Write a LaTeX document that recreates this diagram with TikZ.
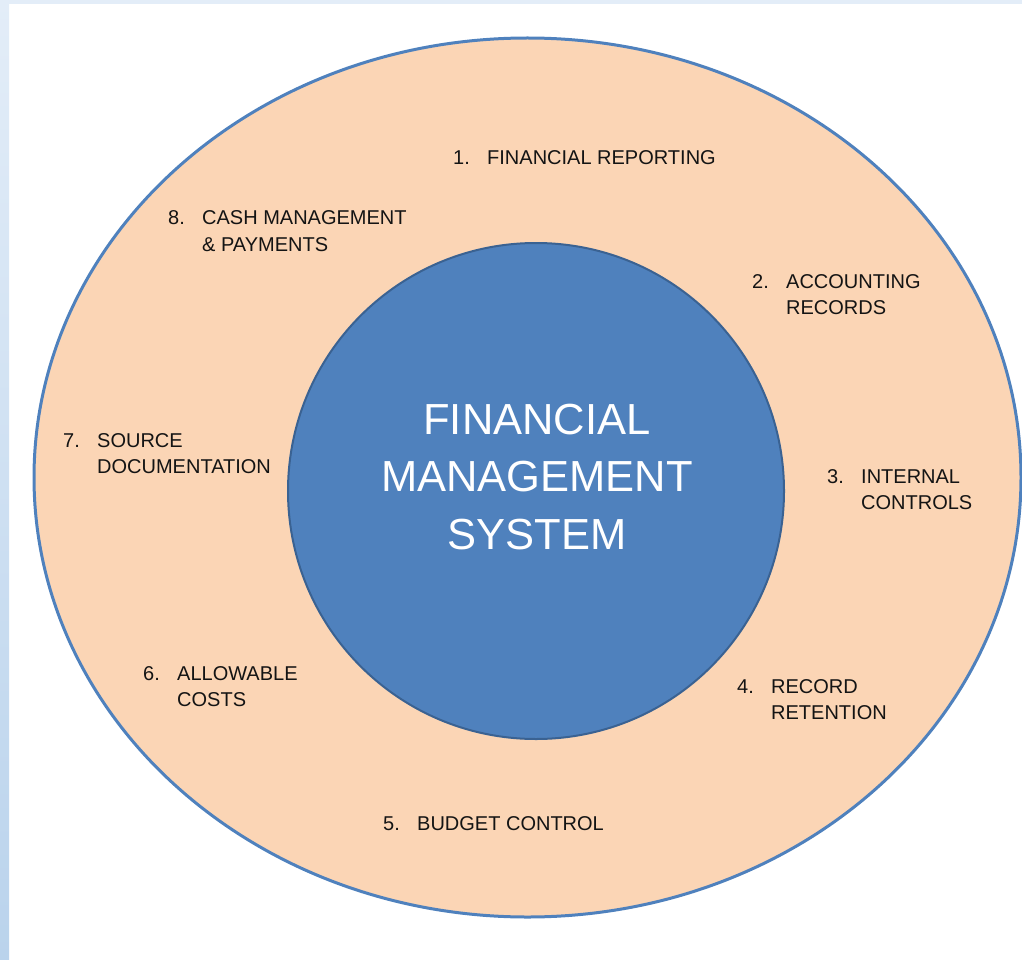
\documentclass[tikz,border=0pt]{standalone}
\usepackage{fontspec}
\setmainfont{Liberation Sans}
\definecolor{peach}{HTML}{FBD5B5}
\definecolor{ringblue}{HTML}{4F81BD}
\definecolor{coreblue}{HTML}{4F81BD}
\definecolor{coreedge}{HTML}{3A6292}
\definecolor{frametop}{HTML}{E3EDF8}
\definecolor{framebot}{HTML}{BAD3EC}
\newcommand{\topic}[5]{ \node[topic] (#1) at ( #2 , #3 ) {\makebox[34pt][l]{#4.}\begin{tabular}[t]{@{}l@{}}#5\end{tabular}};}

\tikzset{
  ring/.style={fill=peach, draw=ringblue, line width=3pt},
  core/.style={circle, fill=coreblue, draw=coreedge, line width=2pt, minimum size=496pt, inner sep=0pt},
  topic/.style={anchor=base west, inner sep=0pt, text=black!92, font=\fontsize{20}{26}\selectfont},
  title/.style={anchor=base, inner sep=0pt, text=white, font=\fontsize{43.5}{57.5}\selectfont}
}

\begin{document}
\begin{tikzpicture}[x=1pt,y=-1pt]
        \useasboundingbox (0,0) rectangle (1022,960);

        % frame
        \fill[frametop] (0,0) rectangle (1022,4);
        \shade[top color=frametop, bottom color=framebot] (0,0) rectangle (9,960);

        % rings
        \draw[ring] (527.5,477.5) ellipse (493.5 and 439.5);
        \node[core] (fms) at (536,491) {};
        \node[title] (fmstitle) at (537,434) {\begin{tabular}[t]{@{}c@{}}FINANCIAL\\MANAGEMENT\\SYSTEM\end{tabular}};

        % topics, clockwise from the top
        \topic{reporting}{453}{165}{1}{FINANCIAL REPORTING}
        \topic{records}{752}{288}{2}{ACCOUNTING\\RECORDS}
        \topic{controls}{827}{483}{3}{INTERNAL\\CONTROLS}
        \topic{retention}{737}{693}{4}{RECORD\\RETENTION}
        \topic{budget}{383}{830}{5}{BUDGET CONTROL}
        \topic{costs}{143}{680}{6}{ALLOWABLE\\COSTS}
        \topic{source}{63}{447}{7}{SOURCE\\DOCUMENTATION}
        \topic{cash}{168}{225}{8}{CASH MANAGEMENT\\\& PAYMENTS}

    \end{tikzpicture}
\end{document}
